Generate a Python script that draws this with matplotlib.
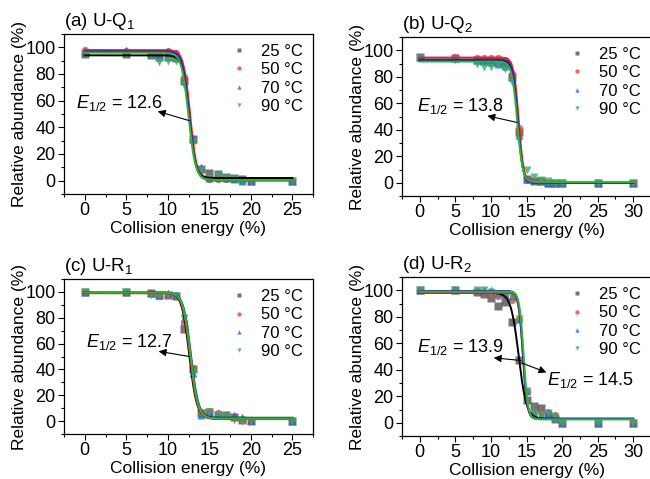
import numpy as np
import matplotlib
matplotlib.use('Agg')
import matplotlib.pyplot as plt
from matplotlib.ticker import MultipleLocator

plt.rcParams['font.family'] = ['Liberation Sans', 'DejaVu Sans']
plt.rcParams['mathtext.fontset'] = 'custom'
plt.rcParams['mathtext.rm'] = 'Liberation Sans'
plt.rcParams['mathtext.it'] = 'Liberation Sans:italic'

temps = ['25 °C', '50 °C', '70 °C', '90 °C']
pt_colors = ['#515151', '#F14040', '#1A6FDF', '#37AD6B']
line_colors = ['#000000', '#ff1a1a', '#1a2ad0', '#2cb82c']
markers = ['s', 'o', '^', 'v']

# collision energies (%)
x_25 = [0, 5, 8, 9, 10, 11, 12, 13, 14, 15, 16, 17, 18, 19, 20, 25]
x_30 = [0, 5, 8, 9, 10, 11, 12, 13, 14, 15, 16, 17, 18, 19, 20, 25, 30]

# relative abundance (%), one list per temperature
uq1 = [[95, 95, 94, 93, 93, 92, 75, 31, 9, 6, 5, 3, 2, 1, 0, 0],
       [98, 97, 96, 95, 97, 96, 78, 30, 8, 1, 1, 1, 1, 0, 0, 0],
       [97, 98, 96, 95, 97, 96, 76, 32, 10, 2, 3, 2, 1, 0, 0, 0],
       [96, 96, 94, 89, 90, 90, 72, 29, 8, 2, 4, 2, 1, 0, 0, 0]]
uq2 = [[95, 94, 93, 92, 92, 91, 90, 80, 38, 3, 1, 1, 0, 0, 0, 0, 0],
       [95, 95, 94, 94, 94, 94, 93, 82, 41, 2, 1, 1, 0, 0, 0, 0, 0],
       [95, 94, 93, 92, 91, 90, 88, 80, 36, 3, 2, 1, 0, 0, 0, 0, 0],
       [94, 93, 90, 87, 87, 89, 86, 76, 32, 10, 4, 2, 1, 0, 0, 0, 0]]
ur1 = [[100, 100, 99, 98, 98, 97, 71, 40, 6, 7, 5, 5, 3, 1, 0, 0],
       [100, 100, 99, 97, 98, 97, 75, 41, 6, 8, 6, 5, 3, 1, 0, 0],
       [100, 100, 99, 98, 99, 98, 80, 37, 5, 7, 5, 5, 5, 3, 1, 0],
       [100, 100, 98, 97, 98, 97, 80, 38, 6, 7, 5, 4, 1, 0, 0, 0]]
ur2 = [[100, 100, 99, 97, 94, 88, 91, 76, 47, 17, 13, 11, 6, 3, 0, 0, 0],
       [100, 100, 99, 99, 97, 96, 96, 93, 78, 24, 8, 7, 8, 6, 0, 0, 0],
       [100, 100, 100, 100, 100, 98, 97, 96, 78, 24, 7, 6, 7, 5, 0, 0, 0],
       [100, 100, 100, 100, 99, 97, 97, 95, 78, 24, 7, 6, 7, 4, 0, 0, 0]]

# Boltzmann fit parameters per temperature: top, bottom, E1/2, width
fit_uq1 = [[94, 2, 12.6, 0.40], [98, 0, 12.7, 0.40], [97, 0.5, 12.6, 0.40], [96, 0.5, 12.5, 0.42]]
fit_uq2 = [[92, 0, 13.8, 0.35], [94.5, 0, 13.9, 0.35], [93, 0, 13.8, 0.35], [91.5, 0.5, 13.7, 0.38]]
fit_ur1 = [[99.5, 2.5, 12.6, 0.45], [99, 1.5, 12.7, 0.45], [99.5, 2.5, 12.8, 0.45], [99.5, 2, 12.75, 0.45]]
fit_ur2 = [[98, 3, 13.9, 0.55], [98, 3, 14.5, 0.30], [99.5, 3, 14.5, 0.30], [99, 2.5, 14.6, 0.30]]

titles = ['(a) U-Q$_1$', '(b) U-Q$_2$', '(c) U-R$_1$', '(d) U-R$_2$']
xmax = [25, 30, 25, 30]
xs = [x_25, x_30, x_25, x_30]
ys = [uq1, uq2, ur1, ur2]
fits = [fit_uq1, fit_uq2, fit_ur1, fit_ur2]

# annotations: label, text pos, arrow tail on curve, arrow head
notes = [
    [('12.6', (-1.0, 58), (12.6, 45), (8.8, 52))],
    [('13.8', (-0.4, 58), (13.7, 45.5), (9.5, 50.5))],
    [('12.7', (0.1, 61), (12.6, 50), (8.9, 54))],
    [('13.9', (-0.4, 57), (14.2, 47), (10.4, 49)),
     ('14.5', (17.9, 32), (14.4, 45), (17.8, 38))],
]

# axes boxes in pixels: left, top, width, height
boxes = [(64, 34, 249, 160), (402, 37, 249, 159), (64, 279, 249, 155), (402, 277, 249, 159)]

W, H = 650, 479
fig = plt.figure(figsize=(W / 100, H / 100), dpi=100)

for i in range(4):
    l, t, w, h = boxes[i]
    ax = fig.add_axes([l / W, 1 - (t + h) / H, w / W, h / H])
    xd = np.array(xs[i], dtype=float)
    xx = np.linspace(0, xmax[i], 400)
    handles = []
    for k in range(4):
        hnd, = ax.plot(xd, ys[i][k], ls='none', marker=markers[k], ms=5.2,
                       color=pt_colors[k], alpha=0.8, mec='none', label=temps[k], zorder=2)
        handles.append(hnd)
    for k in range(4):
        a1, a2, x0, dx = fits[i][k]
        yy = a2 + (a1 - a2) / (1 + np.exp((xx - x0) / dx))
        ax.plot(xx, yy, color=line_colors[k], lw=1.4, zorder=3)

    for lab, tpos, tail, head in notes[i]:
        ax.annotate('', xy=head, xytext=tail,
                    arrowprops=dict(arrowstyle='-|>', color='black', lw=0.8,
                                    mutation_scale=11, shrinkA=0, shrinkB=0), zorder=5)
        ax.text(tpos[0], tpos[1], '$E_{1/2}$ = ' + lab, fontsize=13, va='center', ha='left')

    ax.set_xlim(-2.5, xmax[i] + 2.5)
    ax.set_ylim(-10, 110)
    ax.xaxis.set_major_locator(MultipleLocator(5))
    ax.xaxis.set_minor_locator(MultipleLocator(2.5))
    ax.yaxis.set_major_locator(MultipleLocator(20))
    ax.yaxis.set_minor_locator(MultipleLocator(10))
    ax.tick_params(which='both', direction='out', labelsize=13, width=0.8, pad=2)
    ax.tick_params(which='major', length=4)
    ax.tick_params(which='minor', length=2)
    for s in ax.spines.values():
        s.set_linewidth(0.9)
    ax.set_xlabel('Collision energy (%)', fontsize=12.5, labelpad=1)
    ax.set_ylabel('Relative abundance (%)', fontsize=12.5)
    ax.yaxis.set_label_coords(-0.15, 0.5)
    ax.text(0, 1.01, titles[i], transform=ax.transAxes, fontsize=13.5, ha='left', va='bottom')
    ax.legend(handles=handles, loc='upper right', frameon=False, fontsize=12,
              handlelength=1.0, handletextpad=0.8, labelspacing=0.2,
              borderaxespad=0.2, markerscale=0.6)

fig.savefig('out.png', dpi=100)
